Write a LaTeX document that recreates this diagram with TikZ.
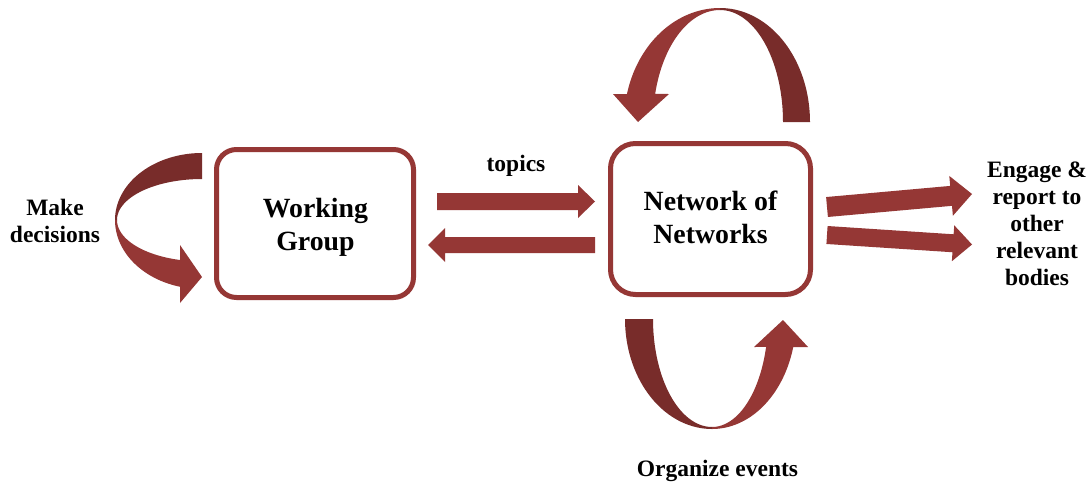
\documentclass[tikz,border=0pt]{standalone}
\usepackage{fontspec}
\setmainfont{Liberation Serif}
\usetikzlibrary{calc}
\definecolor{lightred}{RGB}{149,55,53}
\definecolor{darkred}{RGB}{120,44,42}
\newcommand\blockarr[5]{%
  \coordinate (ba-b) at ($(#2)!#5!(#1)$);
  \fill[lightred] ($(#1)!#3!90:(#2)$) -- ($(ba-b)!#3!-90:(#1)$) -- ($(ba-b)!#4!-90:(#1)$)
    -- (#2) -- ($(ba-b)!#4!90:(#1)$) -- ($(ba-b)!#3!90:(#1)$) -- ($(#1)!#3!-90:(#2)$) -- cycle;}
\begin{document}
\begin{tikzpicture}[x=1pt,y=-1pt,
  box/.style={draw=lightred,line width=5pt,fill=white,rounded corners=#1,inner sep=0pt},
  bigtxt/.style={font=\fontsize{27.8}{32.5}\selectfont\bfseries,align=center,anchor=base,inner sep=0pt},
  smalltxt/.style={font=\fontsize{23.5}{27}\selectfont\bfseries,align=center,anchor=base,inner sep=0pt}]
\useasboundingbox[fill=white] (0,0) rectangle (1091,485);

% boxes
\node[box=20pt,minimum width=197pt,minimum height=148pt] (wg) at (315,223.5) {};
\node[box=25pt,minimum width=200pt,minimum height=151pt] (non) at (710.5,219) {};
\node[bigtxt] (wgt) at (315.5,250) {Working\\Group};
\node[bigtxt] (nont) at (710.5,243) {Network of\\Networks};

% straight arrows between boxes
\coordinate (a1s) at (437,201.5);
\coordinate (a1t) at (595,201.5);
\coordinate (a2s) at (595,245);
\coordinate (a2t) at (428,245);
\blockarr{a1s}{a1t}{8.5pt}{16.5pt}{17pt}
\blockarr{a2s}{a2t}{8pt}{17pt}{17pt}
\node[smalltxt] (topics) at (516,171) {topics};

% arrows to the right
\coordinate (r1s) at (827,207);
\coordinate (r1t) at (972,194);
\coordinate (r2s) at (827,235);
\coordinate (r2t) at (972,244.5);
\blockarr{r1s}{r1t}{10pt}{20pt}{21pt}
\blockarr{r2s}{r2t}{9pt}{18pt}{19pt}
\node[smalltxt] (engage) at (1037,285) {Engage \&\\report to\\other\\relevant\\bodies};

% left curved arrow (make decisions)
\fill[darkred] plot[domain=90:180,samples=40] ({202+87*cos(\x)},{220-67*sin(\x)})
  -- plot[domain=180:90,samples=40] ({202+85*cos(\x)},{220-41*sin(\x)}) -- cycle;
\fill[lightred] plot[domain=180:255.35,samples=40] ({202+87*cos(\x)},{220-69*sin(\x)})
  -- (180,303) -- (202,277) -- (180,245)
  -- plot[domain=255:180,samples=40] ({202+85*cos(\x)},{220-41.4*sin(\x)}) -- cycle;
\node[smalltxt] (make) at (55,242) {Make\\decisions};

% top curved arrow
\fill[darkred] plot[domain=0:90,samples=40] ({720+90*cos(\x)},{122-114*sin(\x)})
  -- plot[domain=90:0,samples=40] ({720+63*cos(\x)},{122-112*sin(\x)}) -- cycle;
\fill[lightred] plot[domain=90:165.8,samples=40] ({720+96*cos(\x)},{122-114*sin(\x)})
  -- (613,94) -- (638,122) -- (669,94)
  -- plot[domain=165.5:90,samples=40] ({720+67*cos(\x)},{122-112*sin(\x)}) -- cycle;

% bottom curved arrow
\fill[darkred] plot[domain=180:270,samples=40] ({712+87*cos(\x)},{319-110*sin(\x)})
  -- plot[domain=270:180,samples=40] ({712+59*cos(\x)},{319-108*sin(\x)}) -- cycle;
\fill[lightred] plot[domain=270:345.25,samples=40] ({712+84*cos(\x)},{319-110*sin(\x)})
  -- (808,347) -- (783,320) -- (754,347)
  -- plot[domain=345:270,samples=40] ({712+56*cos(\x)},{319-108*sin(\x)}) -- cycle;
\node[smalltxt] (org) at (717.5,476) {Organize events};
\end{tikzpicture}
\end{document}
